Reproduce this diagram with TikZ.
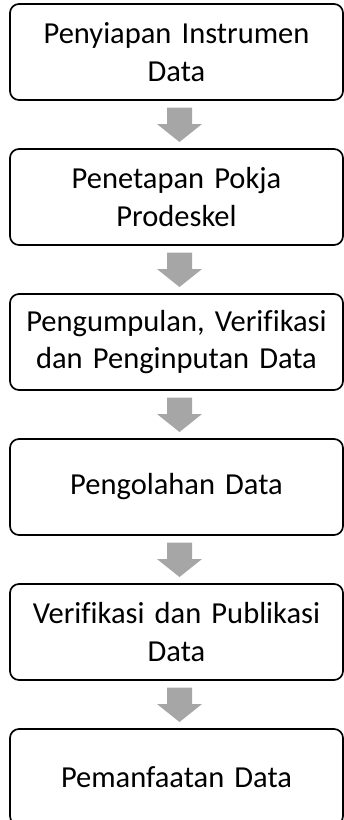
\documentclass[tikz,border=0pt]{standalone}
\usepackage{fontspec}
\setmainfont{Carlito}[Ligatures=NoCommon]
\usetikzlibrary{calc}
\definecolor{arrgray}{HTML}{A6A6A6}
\begin{document}
\begin{tikzpicture}[x=1pt,y=-1pt,
  stepbox/.style={draw=black,line width=1.7pt,rounded corners=9pt,fill=white,
    minimum width=333pt,minimum height=96pt,text width=330pt,align=center,
    inner sep=0pt,outer sep=0pt,font=\fontsize{30.5}{37.5}\selectfont},
  blockarr/.style={fill=arrgray,draw=none}]
\useasboundingbox (0,0) rectangle (344,820);
\clip (0,0) rectangle (344,820);
\node[stepbox] (s1) at (176.5,52) {Penyiapan Instrumen\\Data};
\node[stepbox] (s2) at (176.5,197) {Penetapan Pokja\\Prodeskel};
\node[stepbox] (s3) at (176.5,342) {Pengumpulan, Verifikasi\\dan Penginputan Data};
\node[stepbox] (s4) at (176.5,487) {Pengolahan Data};
\node[stepbox] (s5) at (176.5,632) {Verifikasi dan Publikasi\\Data};
\node[stepbox] (s6) at (176.5,777) {Pemanfaatan Data};
\foreach \a/\b in {s1/s2,s2/s3,s3/s4,s4/s5,s5/s6}{
  \fill[blockarr] ($(\a.south)+(-9.5,7.5)$) -- ($(\a.south)+(15.5,7.5)$)
    -- ($(\b.north)+(15.5,-25)$) -- ($(\b.north)+(25.5,-25)$)
    -- ($(\b.north)+(3,-7)$) -- ($(\b.north)+(-19.5,-25)$)
    -- ($(\b.north)+(-9.5,-25)$) -- cycle;
}
\end{tikzpicture}
\end{document}
